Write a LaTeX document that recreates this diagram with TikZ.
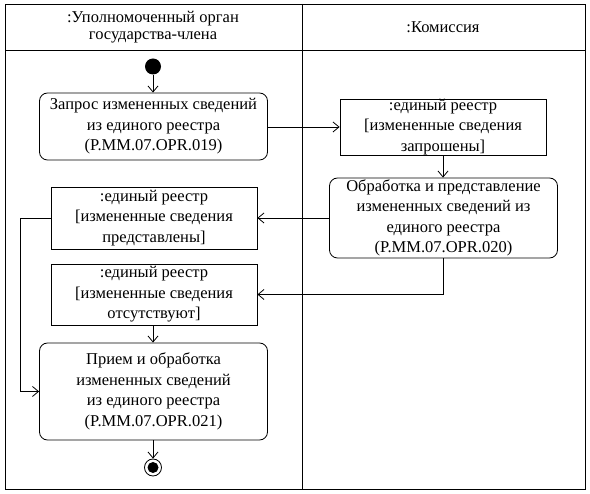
\documentclass[tikz,border=0pt]{standalone}
\usepackage{fontspec}
\setmainfont{Liberation Serif}
\usetikzlibrary{arrows.meta}
\begin{document}
\begin{tikzpicture}[x=1pt,y=-1pt,
  line width=0.8pt,
  every node/.style={font=\fontsize{16.5}{20.5}\selectfont, align=center, inner sep=0pt},
  action/.style={draw, rounded corners=8pt},
  object/.style={draw},
  hdr/.style={font=\fontsize{16.5}{17}\selectfont},
  arr/.style={-{Straight Barb[length=6pt,width=10pt]}}]
\useasboundingbox (0,0) rectangle (590,494);
% frame
\draw (5,4) rectangle (585,489);
\draw (5,50) -- (585,50);
\draw (302,4) -- (302,489);
\node[hdr] (h1) at (153,27) {:Уполномоченный орган\\государства-члена};
\node[hdr] (h2) at (443,27) {:Комиссия};
% nodes
\node[circle, fill=black, minimum size=16pt] (start) at (153,66.5) {};
\node[action, minimum width=228pt, minimum height=67pt] (q) at (153.5,126.5)
  {Запрос измененных сведений\\из единого реестра\\(P.MM.07.OPR.019)};
\node[object, minimum width=206pt, minimum height=55pt] (o1) at (443,127)
  {:единый реестр\\{[}измененные сведения\\запрошены{]}};
\node[action, minimum width=228pt, minimum height=80pt] (p2) at (443.5,218)
  {Обработка и представление\\измененных сведений из\\единого реестра\\(P.MM.07.OPR.020)};
\node[object, minimum width=206pt, minimum height=62pt] (o2) at (154,218)
  {:единый реестр\\{[}измененные сведения\\представлены{]}};
\node[object, minimum width=206pt, minimum height=61pt] (o3) at (154,294.5)
  {:единый реестр\\{[}измененные сведения\\отсутствуют{]}};
\node[action, minimum width=228pt, minimum height=97pt] (r) at (153.5,391.5)
  {Прием и обработка\\измененных сведений\\из единого реестра\\(P.MM.07.OPR.021)};
\node[circle, draw, fill=white, minimum size=17pt] (end) at (153,467.5) {};
\fill (end.center) circle (5.5pt);
% connectors
\draw[arr] (start) -- (start |- q.north);
\draw[arr] (q.east |- o1.west) -- (o1.west);
\draw[arr] (o1.south) -- (p2.north -| o1.south);
\draw[arr] (p2.west |- o2.east) -- (o2.east);
\draw[arr] (p2.south -| o1.south) |- (o3.east);
\draw[arr] (o3.south -| start) -- (start |- r.north);
\draw[arr] (o2.west) -- ++(-30,0) |- (r.west);
\draw[arr] (start |- r.south) -- (end);
\end{tikzpicture}
\end{document}
